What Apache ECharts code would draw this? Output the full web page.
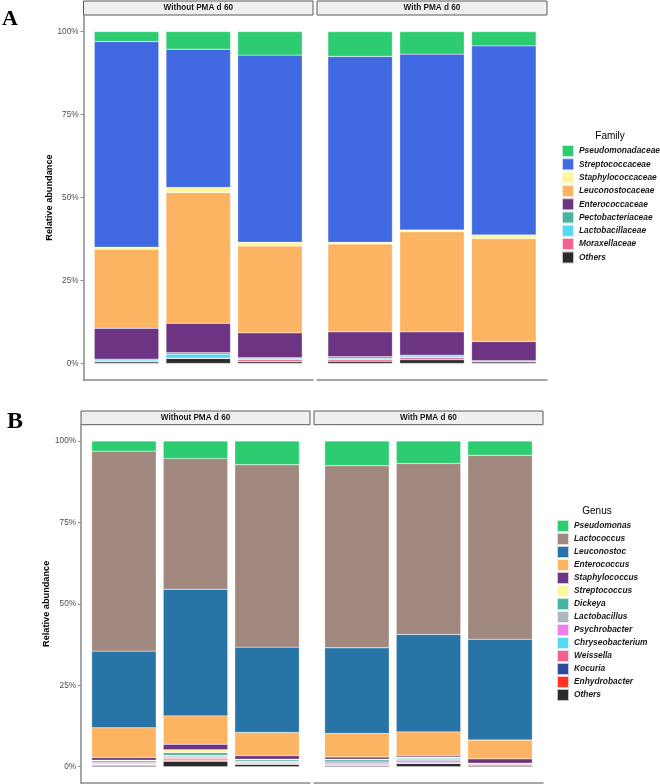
<!DOCTYPE html>
<html>
<head>
<meta charset="utf-8">
<title>Relative abundance</title>
<script src="https://cdn.jsdelivr.net/npm/echarts@6/dist/echarts.min.js"></script>
</head>
<body style="margin:0">
<div id="main" style="width: 660px; height: 784px;"></div>
<script type="text/javascript">
// bar slots inside each facet, and facet / tick labels
var samples = [1, 2, 3];
var facets = ['Without PMA d 60', 'With PMA d 60'];
var yTicks = [0, 25, 50, 75, 100];

// A: family level (%) - first 3 values without PMA, last 3 with PMA
var familyNames = ['Pseudomonadaceae', 'Streptococcaceae', 'Staphylococcaceae', 'Leuconostocaceae',
  'Enterococcaceae', 'Pectobacteriaceae', 'Lactobacillaceae', 'Moraxellaceae', 'Others'];
var familyColors = ['#2ecc71', '#4169e1', '#fff59d', '#fdb462', '#6c3483', '#45b39d', '#56d9f2', '#f06292', '#2b2b2b'];
var pseudomonadaceae  = [3.0, 5.3, 7.1, 7.5, 6.8, 4.3];
var streptococcaceae  = [62.0, 41.7, 56.4, 56.0, 53.0, 57.0];
var staphylococcaceae = [0.6, 1.5, 1.1, 0.5, 0.5, 1.1];
var leuconostocaceae  = [23.8, 39.4, 26.2, 26.5, 30.2, 31.0];
var enterococcaceae   = [9.3, 8.9, 7.5, 7.5, 7.0, 5.8];
var pectobacteriaceae = [0.3, 0.4, 0.3, 0.5, 0.3, 0.3];
var lactobacillaceae  = [0.5, 1.2, 0.3, 0.4, 0.5, 0.0];
var moraxellaceae     = [0.0, 0.1, 0.6, 0.5, 0.6, 0.0];
var othersFamily      = [0.5, 1.5, 0.5, 0.6, 1.1, 0.5];

// B: genus level (%)
var genusNames = ['Pseudomonas', 'Lactococcus', 'Leuconostoc', 'Enterococcus', 'Staphylococcus',
  'Streptococcus', 'Dickeya', 'Lactobacillus', 'Psychrobacter', 'Chryseobacterium', 'Weissella',
  'Kocuria', 'Enhydrobacter', 'Others'];
var genusColors = ['#2ecc71', '#a1887f', '#2874a6', '#fdb462', '#6c3483', '#fff59d', '#45b39d',
  '#aeb6bf', '#f07cf0', '#56d9f2', '#f06292', '#2e4a9e', '#ff3322', '#2b2b2b'];
var pseudomonas      = [3.1, 5.4, 7.3, 7.6, 6.9, 4.4];
var lactococcus      = [61.4, 40.1, 56.0, 55.9, 52.5, 56.5];
var leuconostoc      = [23.5, 38.9, 26.2, 26.3, 29.9, 30.9];
var enterococcus     = [9.2, 8.7, 7.1, 7.2, 7.2, 5.8];
var staphylococcus   = [0.8, 1.7, 1.1, 0.7, 0.5, 1.3];
var streptococcus    = [0.2, 0.9, 0.2, 0.2, 0.4, 0.0];
var dickeya          = [0.4, 0.8, 0.4, 0.6, 0.4, 0.1];
var lactobacillus    = [0.5, 0.4, 0.4, 0.4, 0.4, 0.0];
var psychrobacter    = [0.2, 0.3, 0.4, 0.5, 0.6, 0.2];
var chryseobacterium = [0.1, 0.2, 0.0, 0.0, 0.0, 0.0];
var weissella        = [0.1, 0.5, 0.1, 0.2, 0.2, 0.3];
var kocuria          = [0.0, 0.1, 0.0, 0.0, 0.0, 0.0];
var enhydrobacter    = [0.0, 0.3, 0.0, 0.0, 0.0, 0.0];
var othersGenus      = [0.5, 1.7, 0.8, 0.4, 1.0, 0.5];

var familyRows = [pseudomonadaceae, streptococcaceae, staphylococcaceae, leuconostocaceae,
  enterococcaceae, pectobacteriaceae, lactobacillaceae, moraxellaceae, othersFamily];
var genusRows = [pseudomonas, lactococcus, leuconostoc, enterococcus, staphylococcus, streptococcus,
  dickeya, lactobacillus, psychrobacter, chryseobacterium, weissella, kocuria, enhydrobacter, othersGenus];

var FONT = '"Liberation Sans", Arial, sans-serif';
var axisGray = '#8a8a8a';

var panels = [
  { letter: 'A', letterX: 2, letterY: 30, letterSize: 22, top: 15, height: 365, lefts: [83.5, 317], widths: [229.5, 230],
    stripTop: 1, names: familyNames, colors: familyColors, rows: familyRows,
    legendLeft: 561, legendTop: 144, legendGap: -0.7, title: 'Family', titleX: 610, titleY: 136, nameGap: 27 },
  { letter: 'B', letterX: 7, letterY: 434, letterSize: 24, top: 424.7, height: 358.3, lefts: [81, 314], widths: [229, 229],
    stripTop: 411, names: genusNames, colors: genusColors, rows: genusRows,
    legendLeft: 556, legendTop: 519, legendGap: -1, title: 'Genus', titleX: 597, titleY: 511, nameGap: 26.5 }
];

var grids = [], xAxes = [], yAxes = [], series = [], legends = [], graphics = [];

panels.forEach(function (p) {
  for (var f = 0; f < 2; f++) {
    var gi = grids.length;
    grids.push({ left: p.lefts[f], top: p.top, width: p.widths[f], height: p.height });
    xAxes.push({
      gridIndex: gi, type: 'value', min: 0.4, max: 3.6,
      axisLine: { onZero: false, lineStyle: { color: axisGray, width: 1.5 } },
      axisTick: { show: false }, axisLabel: { show: false }, splitLine: { show: false }
    });
    yAxes.push({
      gridIndex: gi, type: 'value', min: -5, max: 105, show: f === 0,
      name: f === 0 ? 'Relative abundance' : '', nameLocation: 'middle', nameGap: p.nameGap,
      nameTextStyle: { fontFamily: FONT, fontWeight: 'bold', fontSize: 9.2, color: '#000' },
      axisLine: { show: true, onZero: false, lineStyle: { color: axisGray, width: 1.5 } },
      axisTick: { show: true, length: 3, customValues: yTicks, lineStyle: { color: axisGray, width: 1 } },
      axisLabel: { customValues: yTicks, formatter: '{value}%', margin: 5,
        fontFamily: FONT, fontSize: 8.2, color: '#4d4d4d' },
      splitLine: { show: false }
    });
    // first series in the stack sits at the bottom, so go from "Others" upwards
    for (var i = p.names.length - 1; i >= 0; i--) {
      var row = p.rows[i];
      series.push({
        type: 'bar', name: p.names[i], xAxisIndex: gi, yAxisIndex: gi, stack: 'g' + gi,
        barWidth: 64.5,
        encode: { x: 1, y: 0 },
        data: samples.map(function (s, k) { return [row[f * 3 + k], s]; }),
        itemStyle: { color: p.colors[i], borderColor: 'rgba(255,255,255,0.7)', borderWidth: 0.4 }
      });
    }
    // facet strip
    graphics.push({
      type: 'rect', silent: true,
      shape: { x: p.lefts[f], y: p.stripTop, width: p.widths[f], height: p.top - p.stripTop },
      style: { fill: '#efefef', stroke: '#5a5a5a', lineWidth: 1 }
    });
    graphics.push({
      type: 'text', silent: true,
      x: p.lefts[f] + p.widths[f] / 2, y: (p.stripTop + p.top) / 2,
      style: { text: facets[f], font: 'bold 8.2px ' + FONT, fill: '#1a1a1a',
        textAlign: 'center', textVerticalAlign: 'middle' }
    });
  }
  legends.push({
    data: p.names, orient: 'vertical', left: p.legendLeft, top: p.legendTop, padding: 0,
    itemWidth: 12, itemHeight: 12, itemGap: p.legendGap, icon: 'rect', selectedMode: false,
    textStyle: { fontFamily: FONT, fontStyle: 'italic', fontWeight: 'bold', fontSize: 8.4, color: '#1a1a1a' }
  });
  graphics.push({
    type: 'text', silent: true, x: p.titleX, y: p.titleY,
    style: { text: p.title, font: '10px ' + FONT, fill: '#000', textAlign: 'center', textVerticalAlign: 'middle' }
  });
  graphics.push({
    type: 'text', silent: true, x: p.letterX, y: p.letterY,
    style: { text: p.letter, font: 'bold ' + p.letterSize + 'px "Liberation Serif", "Times New Roman", serif',
      fill: '#000', textVerticalAlign: 'bottom' }
  });
});

var chart = echarts.init(document.getElementById('main'));
chart.setOption({
  animation: false,
  textStyle: { fontFamily: FONT },
  grid: grids,
  xAxis: xAxes,
  yAxis: yAxes,
  legend: legends,
  graphic: graphics,
  series: series
});
</script>
</body>
</html>
